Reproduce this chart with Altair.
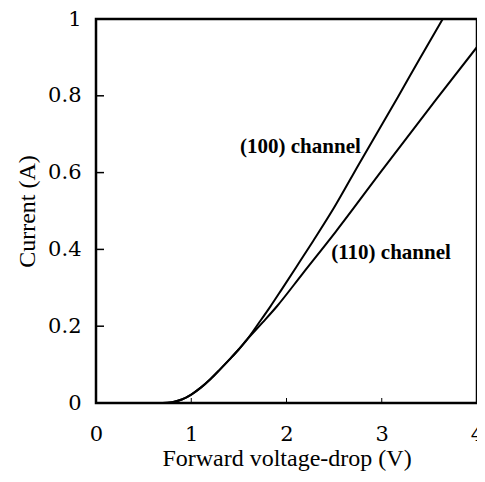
import altair as alt
import pandas as pd

# (100) channel curve
v100 = [0.0, 0.5, 0.7, 0.8, 0.9, 1.0, 1.1, 1.2, 1.3, 1.4, 1.5, 1.585, 1.7, 1.83, 1.95, 2.1, 2.28, 2.5, 2.76, 3.17, 3.4, 3.64]
i100 = [0.0, 0.0, 0.0, 0.002, 0.009, 0.022, 0.04, 0.062, 0.087, 0.113, 0.14, 0.165, 0.205, 0.251, 0.296, 0.353, 0.422, 0.509, 0.622, 0.797, 0.897, 1.0]

# (110) channel curve
v110 = [0.0, 0.5, 0.7, 0.8, 0.9, 1.0, 1.1, 1.2, 1.3, 1.4, 1.5, 1.585, 1.75, 1.9, 2.17, 2.52, 3.0, 3.57, 4.0]
i110 = [0.0, 0.0, 0.0, 0.002, 0.009, 0.022, 0.04, 0.062, 0.087, 0.113, 0.14, 0.165, 0.21, 0.252, 0.337, 0.447, 0.605, 0.79, 0.927]

x_ticks = [0, 1, 2, 3, 4]
y_ticks = [0, 0.2, 0.4, 0.6, 0.8, 1]

label_text = ["(100) channel", "(110) channel"]
label_x = [2.78, 2.47]
label_y = [0.666, 0.391]

df = pd.DataFrame({
    "V": v100 + v110,
    "I": i100 + i110,
    "ch": ["100"] * len(v100) + ["110"] * len(v110),
})
lab = pd.DataFrame({"t": label_text, "x": label_x, "y": label_y})
yt = pd.DataFrame({"y": y_ticks})
xt = pd.DataFrame({"x": x_ticks})

FONT = "Liberation Serif"
TICKFONT = "DejaVu Serif"
W = 381
H = 384

xs = alt.Scale(domain=[0, 4], nice=False)
ys = alt.Scale(domain=[0, 1], nice=False)

xaxis = alt.Axis(
    values=x_ticks, format="d", title="Forward voltage-drop (V)", ticks=False, domain=False,
    grid=False, labelFont=TICKFONT, labelFontSize=21, labelColor="black",
    labelPadding=20, titleFont=FONT, titleFontSize=24, titleFontWeight="normal",
    titleColor="black", titlePadding=2, labelFlush=False,
)
yaxis = alt.Axis(
    values=y_ticks, title="Current (A)", ticks=False, domain=False, grid=False,
    labelFont=TICKFONT, labelFontSize=21, labelColor="black", labelPadding=15,
    titleFont=FONT, titleFontSize=24, titleFontWeight="normal", titleColor="black",
    titlePadding=8, labelFlush=False,
    labelExpr="datum.value == 0 || datum.value == 1 ? format(datum.value, 'd') : format(datum.value, '.1f')",
)

frame = alt.Chart(pd.DataFrame({"f": [0]})).mark_rect(
    fill="transparent", stroke="black", strokeWidth=2.5
).encode(x=alt.value(0), x2=alt.value(W), y=alt.value(0), y2=alt.value(H))

lines = alt.Chart(df).mark_line(color="black", strokeWidth=2, interpolate="monotone").encode(
    x=alt.X("V:Q", scale=xs, axis=xaxis),
    y=alt.Y("I:Q", scale=ys, axis=yaxis),
    detail="ch:N",
)

t100 = alt.Chart(lab.iloc[[0]]).mark_text(
    font=FONT, fontSize=21, fontWeight="bold", color="black", baseline="middle", align="right"
).encode(x=alt.X("x:Q", scale=xs), y=alt.Y("y:Q", scale=ys), text="t:N")
t110 = alt.Chart(lab.iloc[[1]]).mark_text(
    font=FONT, fontSize=21, fontWeight="bold", color="black", baseline="middle", align="left"
).encode(x=alt.X("x:Q", scale=xs), y=alt.Y("y:Q", scale=ys), text="t:N")

ytick_marks = alt.Chart(yt).mark_rule(color="black", strokeWidth=1.5).encode(
    y=alt.Y("y:Q", scale=ys), x=alt.value(0), x2=alt.value(8)
)
xtick_marks = alt.Chart(xt).mark_rule(color="black", strokeWidth=1).encode(
    x=alt.X("x:Q", scale=xs), y=alt.value(H), y2=alt.value(H - 5)
)

chart = alt.layer(lines, frame, ytick_marks, xtick_marks, t100, t110).properties(
    width=W, height=H,
    padding={"left": 88, "top": 11, "right": 0, "bottom": 70},
    autosize=alt.AutoSizeParams(type="none"),
    background="white",
).configure_view(strokeWidth=0)

chart.save("out.html", embed_options={"renderer": "svg", "actions": False})
